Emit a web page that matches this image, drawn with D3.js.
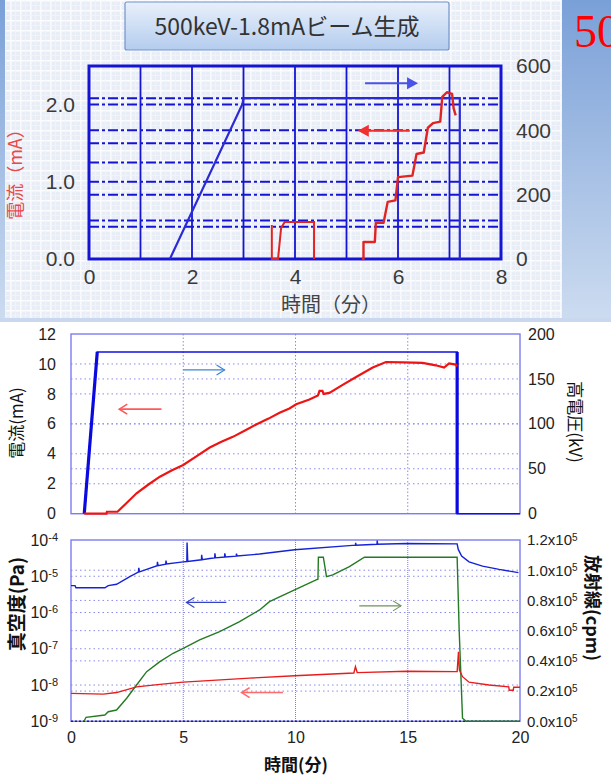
<!DOCTYPE html>
<html lang="ja">
<head>
<meta charset="utf-8">
<title>500keV-1.8mAビーム生成</title>
<script src="https://cdn.jsdelivr.net/npm/d3@7"></script>
<style>
body { margin: 0; background: #fff; }
svg text { font-family: Arial, "Liberation Sans", "Noto Sans CJK JP", sans-serif; }
svg text.jp { font-family: "Noto Sans CJK JP", sans-serif; }
</style>
</head>
<body>
<svg id="chart" width="611" height="778"></svg>
<script>
// ---- top panel (500keV-1.8mA) ----
var topTitle = "500keV-1.8mAビーム生成";
var topTicksX = [0, 2, 4, 6, 8];
var topTicksL = [0, 1, 2];
var topTicksR = [0, 200, 400, 600];
var topGridX = [1, 2, 3, 4, 5, 6, 7];
var topGridL = [0.5, 1, 1.5, 2];
var topGridR = [100, 200, 300, 400, 500];
// [min, kV]
var topVoltage = [[1.57, 0], [2.98, 482], [3.0, 500], [7.2, 500], [7.2, 0]];
// [min, mA]
var topPulse = [[3.55, 0.44], [3.55, 0], [3.67, 0], [3.73, 0.4], [3.8, 0.48], [4.37, 0.48], [4.37, 0]];
var topCurrent = [[5.3, 0], [5.33, 0], [5.33, 0.22], [5.55, 0.22], [5.57, 0.47], [5.72, 0.47], [5.8, 0.74],
  [5.95, 0.76], [6.0, 1.06], [6.28, 1.08], [6.36, 1.36], [6.5, 1.38], [6.58, 1.7], [6.68, 1.76], [6.82, 1.78],
  [6.86, 2.1], [6.95, 2.16], [7.05, 2.14], [7.08, 1.95], [7.12, 1.86]];

// ---- middle panel ----
var midTicksL = [0, 2, 4, 6, 8, 10, 12];
var midTicksR = [0, 50, 100, 150, 200];
var midGridX = [5, 10, 15];
var midGridL = [2, 4, 6, 8, 10];
var midGridR = [50, 100, 150];
var midVoltage = [[0.59, 0], [1.17, 180], [17.2, 180], [17.2, 0], [20, 0]];
var midCurrent = [[0.59, 0], [1.58, 0], [1.6, 0.13], [2.07, 0.13], [2.5, 0.75], [2.92, 1.36], [3.45, 1.95],
  [3.96, 2.47], [4.5, 2.9], [5.0, 3.25], [5.6, 3.85], [6.18, 4.42], [6.7, 4.8], [7.21, 5.13], [7.75, 5.55],
  [8.25, 5.96], [8.8, 6.35], [9.29, 6.74], [9.73, 7.03], [10.03, 7.31], [10.62, 7.62], [11.0, 7.9],
  [11.07, 8.2], [11.2, 8.2], [11.25, 8.0], [11.51, 8.07], [12.1, 8.6], [12.7, 9.13], [13.44, 9.76],
  [14.03, 10.13], [14.8, 10.1], [15.66, 10.07], [16.25, 9.91], [16.62, 9.76], [16.84, 10.03],
  [17.14, 9.96], [17.2, 9.85]];

// ---- bottom panel ----
var botTicksX = [0, 5, 10, 15, 20];
var botTicksL = [1e-9, 1e-8, 1e-7, 1e-6, 1e-5, 1e-4];
var botTicksR = [0, 0.2e5, 0.4e5, 0.6e5, 0.8e5, 1.0e5, 1.2e5];
var botGridL = [1e-8, 1e-7, 1e-6, 1e-5];
var botGridR = [0.2e5, 0.4e5, 0.6e5, 0.8e5, 1.0e5];
var vacBlue = [[0, 5.5e-6], [0.18, 5.5e-6], [0.22, 4.8e-6], [1.51, 4.8e-6], [1.66, 5.5e-6], [2.03, 6e-6],
  [2.62, 9.8e-6], [3.0, 1.3e-5], [3.02, 1.7e-5], [3.05, 1.32e-5], [3.84, 1.95e-5], [3.85, 2.5e-5],
  [3.88, 1.97e-5], [4.22, 2.15e-5], [4.23, 2.7e-5], [4.26, 2.17e-5], [5.0, 2.5e-5], [5.16, 2.55e-5],
  [5.17, 8.5e-5], [5.2, 2.57e-5], [5.81, 2.85e-5], [5.82, 3.9e-5], [5.85, 2.87e-5], [6.18, 3.1e-5],
  [6.4, 3.2e-5], [6.41, 4.3e-5], [6.44, 3.22e-5], [6.84, 3.4e-5], [6.85, 4.3e-5], [6.88, 3.42e-5],
  [7.36, 3.6e-5], [7.37, 4.2e-5], [7.4, 3.62e-5], [8.4, 4.1e-5], [9.96, 5.4e-5], [12.4, 7.0e-5],
  [12.67, 7.2e-5], [12.68, 8.3e-5], [12.7, 7.2e-5], [13.63, 7.6e-5], [13.64, 9.6e-5], [13.66, 7.6e-5],
  [14.96, 8.0e-5], [17.2, 7.8e-5], [17.25, 5.5e-5], [17.4, 3.6e-5], [17.73, 2.5e-5], [18.33, 1.9e-5],
  [19.07, 1.55e-5], [19.93, 1.26e-5]];
var vacRed = [[0, 5.9e-9], [1.44, 5.6e-9], [2.03, 6.2e-9], [2.92, 8.9e-9], [3.96, 1.04e-8], [5.0, 1.2e-8],
  [7.96, 1.55e-8], [9.96, 1.8e-8], [12.6, 2.15e-8], [12.67, 3.2e-8], [12.75, 2.2e-8], [14.96, 2.4e-8],
  [17.2, 2.35e-8], [17.26, 8.2e-8], [17.3, 2.6e-8], [17.44, 1.7e-8], [17.73, 1.2e-8], [18.62, 1.0e-8],
  [19.5, 8.9e-9], [19.52, 7.2e-9], [19.7, 7.2e-9], [19.72, 8.7e-9], [20, 8.7e-9]];
var radGreen = [[0.58, 0], [0.67, 2650], [1.51, 4170], [1.66, 6360], [2.03, 7480], [2.48, 15230],
  [2.92, 24000], [3.37, 32850], [3.96, 39500], [4.55, 45030], [5.0, 48300], [5.73, 53850], [6.62, 59340],
  [7.51, 65960], [8.4, 73700], [8.84, 79200], [9.96, 86950], [10.92, 93600], [11.0, 94000], [11.02, 108600],
  [11.24, 108600], [11.38, 95770], [11.66, 96900], [12.4, 102400], [13.07, 108600], [17.2, 108600],
  [17.29, 60470], [17.44, 2000], [17.6, 0], [20, 0]];

var svg = d3.select("#chart");
var defs = svg.append("defs");

// slide background
var bg = defs.append("linearGradient").attr("id", "slideBg")
    .attr("x1", 0).attr("y1", 0).attr("x2", 0).attr("y2", 1);
bg.append("stop").attr("offset", "0%").attr("stop-color", "#7aa0d8");
bg.append("stop").attr("offset", "100%").attr("stop-color", "#cddcf0");
svg.append("rect").attr("x", 0).attr("y", 0).attr("width", 611).attr("height", 322).attr("fill", "url(#slideBg)");

var pat = defs.append("pattern").attr("id", "paper").attr("width", 10).attr("height", 10)
    .attr("patternUnits", "userSpaceOnUse");
pat.append("rect").attr("width", 10).attr("height", 10).attr("fill", "#e9eef6");
pat.append("path").attr("d", "M0,0.8H10M0.8,0V10").attr("stroke", "#fbfcfe").attr("stroke-width", 1.4);
pat.append("path").attr("d", "M0,5.5H10M5.5,0V10").attr("stroke", "#f1f4f9").attr("stroke-width", 0.8);
svg.append("rect").attr("x", 5).attr("y", 0).attr("width", 557).attr("height", 318).attr("fill", "url(#paper)");

svg.append("text").attr("x", 574).attr("y", 47)
    .attr("style", "font-family: 'Liberation Serif', 'DejaVu Serif', serif; font-size: 46px")
    .attr("fill", "#ff0000").text("50");

// title box
var tg = defs.append("linearGradient").attr("id", "titleBg")
    .attr("x1", 0).attr("y1", 0).attr("x2", 0).attr("y2", 1);
tg.append("stop").attr("offset", "0%").attr("stop-color", "#e8f0fb");
tg.append("stop").attr("offset", "100%").attr("stop-color", "#b4ccee");
svg.append("rect").attr("x", 125).attr("y", 2).attr("width", 324).attr("height", 48).attr("rx", 2)
    .attr("fill", "url(#titleBg)").attr("stroke", "#7393c8").attr("stroke-width", 1.2);
svg.append("text").attr("class", "jp").attr("x", 287).attr("y", 35).attr("text-anchor", "middle")
    .style("font-size", "23px").attr("fill", "#333").text(topTitle);

function arrow(g, x1, y1, x2, y2, color, w, filled) {
  var dir = x2 > x1 ? 1 : -1;
  if (filled) {
    g.append("line").attr("x1", x1).attr("y1", y1).attr("x2", x2 - dir * 8).attr("y2", y2)
        .attr("stroke", color).attr("stroke-width", w);
    g.append("path").attr("d", "M" + x2 + "," + y2 + "L" + (x2 - dir * 11) + "," + (y2 - 6) + "L" + (x2 - dir * 11) + "," + (y2 + 6) + "Z")
        .attr("fill", color);
  } else {
    g.append("line").attr("x1", x1).attr("y1", y1).attr("x2", x2).attr("y2", y2)
        .attr("stroke", color).attr("stroke-width", w);
    g.append("path").attr("d", "M" + (x2 - dir * 8) + "," + (y2 - 5) + "L" + x2 + "," + y2 + "L" + (x2 - dir * 8) + "," + (y2 + 5))
        .attr("fill", "none").attr("stroke", color).attr("stroke-width", w);
  }
}

function styleAxis(g, size, color) {
  g.select(".domain").remove();
  g.selectAll(".tick line").remove();
  g.attr("font-family", null).attr("font-size", null);
  g.selectAll("text").style("font-size", size + "px").attr("fill", color);
}

// ---------------- top chart ----------------
var tx = d3.scaleLinear().domain([0, 8]).range([89, 501]);
var tyL = d3.scaleLinear().domain([0, 2.5]).range([259, 66]);
var tyR = d3.scaleLinear().domain([0, 600]).range([259, 66]);
var topBlue = "#1414d2";
var topG = svg.append("g");

topG.selectAll(".vg").data(topGridX).enter().append("line")
    .attr("x1", tx).attr("x2", tx).attr("y1", tyL(2.5)).attr("y2", tyL(0))
    .attr("stroke", topBlue).attr("stroke-width", 1.8);
topG.selectAll(".hgl").data(topGridL).enter().append("line")
    .attr("x1", tx(0)).attr("x2", tx(8)).attr("y1", tyL).attr("y2", tyL)
    .attr("stroke", topBlue).attr("stroke-width", 2).attr("stroke-dasharray", "10,3,3,3");
topG.selectAll(".hgr").data(topGridR).enter().append("line")
    .attr("x1", tx(0)).attr("x2", tx(8)).attr("y1", tyR).attr("y2", tyR)
    .attr("stroke", topBlue).attr("stroke-width", 2).attr("stroke-dasharray", "10,3,3,3");
topG.append("rect").attr("x", tx(0)).attr("y", tyL(2.5)).attr("width", tx(8) - tx(0)).attr("height", tyL(0) - tyL(2.5))
    .attr("fill", "none").attr("stroke", topBlue).attr("stroke-width", 3);

var topVLine = d3.line().x(function(d) { return tx(d[0]); }).y(function(d) { return tyR(d[1]); });
var topILine = d3.line().x(function(d) { return tx(d[0]); }).y(function(d) { return tyL(d[1]); });
topG.append("path").attr("d", topVLine(topVoltage)).attr("fill", "none").attr("stroke", "#2a2ad6").attr("stroke-width", 2.2);
topG.append("path").attr("d", topILine(topPulse)).attr("fill", "none").attr("stroke", "#e02424").attr("stroke-width", 2);
topG.append("path").attr("d", topILine(topCurrent)).attr("fill", "none").attr("stroke", "#e02424").attr("stroke-width", 2.4)
    .attr("stroke-linejoin", "round");

arrow(topG, tx(5.36), tyR(546), tx(6.39), tyR(546), "#4b52e6", 2, true);
arrow(topG, tx(6.23), tyL(1.66), tx(5.22), tyL(1.66), "#f03030", 2, true);

topG.append("g").attr("transform", "translate(0," + tyL(0) + ")")
    .call(d3.axisBottom(tx).tickValues(topTicksX).tickSize(0).tickPadding(10))
    .call(styleAxis, 21, "#3a3a3a");
topG.append("g").attr("transform", "translate(" + tx(0) + ",0)")
    .call(d3.axisLeft(tyL).tickValues(topTicksL).tickSize(0).tickPadding(14).tickFormat(d3.format(".1f")))
    .call(styleAxis, 21, "#3a3a3a");
topG.append("g").attr("transform", "translate(" + tx(8) + ",0)")
    .call(d3.axisRight(tyR).tickValues(topTicksR).tickSize(0).tickPadding(15))
    .call(styleAxis, 21, "#3a3a3a");

topG.append("text").attr("class", "jp").attr("x", 331).attr("y", 312).attr("text-anchor", "middle")
    .style("font-size", "20px").attr("fill", "#444").text("時間（分）");
topG.append("text").attr("class", "jp").attr("transform", "translate(22,170) rotate(-90)").attr("text-anchor", "middle")
    .style("font-size", "18px").attr("fill", "#e84a4a").text("電流（mA）");

// separator under the slide area
svg.append("rect").attr("x", 0).attr("y", 318).attr("width", 611).attr("height", 4).attr("fill", "#c9d8ee");

// ---------------- middle chart ----------------
var mx = d3.scaleLinear().domain([0, 20]).range([71, 520]);
var myL = d3.scaleLinear().domain([0, 12]).range([513.7, 334]);
var myR = d3.scaleLinear().domain([0, 200]).range([513.7, 334]);
var grid = "#8a8aee";
var mid = svg.append("g");

mid.selectAll(".vg").data(midGridX).enter().append("line")
    .attr("x1", mx).attr("x2", mx).attr("y1", myL(12)).attr("y2", myL(0))
    .attr("stroke", grid).attr("stroke-width", 1).attr("stroke-dasharray", "1.5,2");
mid.selectAll(".hgl").data(midGridL).enter().append("line")
    .attr("x1", mx(0)).attr("x2", mx(20)).attr("y1", myL).attr("y2", myL)
    .attr("stroke", grid).attr("stroke-width", 1).attr("stroke-dasharray", "1.5,3");
mid.selectAll(".hgr").data(midGridR).enter().append("line")
    .attr("x1", mx(0)).attr("x2", mx(20)).attr("y1", myR).attr("y2", myR)
    .attr("stroke", grid).attr("stroke-width", 1).attr("stroke-dasharray", "1.5,3");
mid.append("rect").attr("x", mx(0)).attr("y", myL(12)).attr("width", mx(20) - mx(0)).attr("height", myL(0) - myL(12))
    .attr("fill", "none").attr("stroke", "#7c7cf2").attr("stroke-width", 1.4);

var midVLine = d3.line().x(function(d) { return mx(d[0]); }).y(function(d) { return myR(d[1]); });
var midILine = d3.line().x(function(d) { return mx(d[0]); }).y(function(d) { return myL(d[1]); });
mid.append("path").attr("d", midVLine(midVoltage)).attr("fill", "none").attr("stroke", "#1010e0").attr("stroke-width", 1.6);
mid.append("path").attr("d", midVLine(midVoltage.slice(0, 2))).attr("fill", "none").attr("stroke", "#0a0ae0").attr("stroke-width", 3.2);
mid.append("path").attr("d", midVLine(midVoltage.slice(2, 4))).attr("fill", "none").attr("stroke", "#0a0ae0").attr("stroke-width", 3.2);
mid.append("path").attr("d", midILine(midCurrent)).attr("fill", "none").attr("stroke", "#ee1414").attr("stroke-width", 2.2);

arrow(mid, mx(5.0), myR(160), mx(6.84), myR(160), "#3d86d6", 1.2, false);
arrow(mid, mx(4.03), myL(6.98), mx(2.15), myL(6.98), "#ff5a5a", 1.6, false);

mid.append("g").attr("transform", "translate(" + mx(0) + ",0)")
    .call(d3.axisLeft(myL).tickValues(midTicksL).tickSize(0).tickPadding(15))
    .call(styleAxis, 16, "#222");
mid.append("g").attr("transform", "translate(" + mx(20) + ",0)")
    .call(d3.axisRight(myR).tickValues(midTicksR).tickSize(0).tickPadding(8))
    .call(styleAxis, 16, "#222");
mid.append("text").attr("class", "jp").attr("transform", "translate(23,423) rotate(-90)").attr("text-anchor", "middle")
    .style("font-size", "17px").attr("fill", "#111").text("電流(mA)");
mid.append("text").attr("class", "jp").attr("transform", "translate(569,422) rotate(90)").attr("text-anchor", "middle")
    .style("font-size", "17px").attr("fill", "#111").text("高電圧(kV)");

// ---------------- bottom chart ----------------
var bx = d3.scaleLinear().domain([0, 20]).range([71, 520]);
var byL = d3.scaleLog().domain([1e-9, 1e-4]).range([721.3, 540]);
var byR = d3.scaleLinear().domain([0, 1.2e5]).range([721.3, 540]);
var bot = svg.append("g");

bot.selectAll(".vg").data(midGridX).enter().append("line")
    .attr("x1", bx).attr("x2", bx).attr("y1", byR(1.2e5)).attr("y2", byR(0))
    .attr("stroke", "#7a7aea").attr("stroke-width", 1).attr("stroke-dasharray", "1,1");
bot.selectAll(".hgl").data(botGridL).enter().append("line")
    .attr("x1", bx(0)).attr("x2", bx(20)).attr("y1", byL).attr("y2", byL)
    .attr("stroke", grid).attr("stroke-width", 1).attr("stroke-dasharray", "1.5,3");
bot.selectAll(".hgr").data(botGridR).enter().append("line")
    .attr("x1", bx(0)).attr("x2", bx(20)).attr("y1", byR).attr("y2", byR)
    .attr("stroke", grid).attr("stroke-width", 1).attr("stroke-dasharray", "1.5,3");
bot.append("rect").attr("x", bx(0)).attr("y", byR(1.2e5)).attr("width", bx(20) - bx(0)).attr("height", byR(0) - byR(1.2e5))
    .attr("fill", "none").attr("stroke", "#7c7cf2").attr("stroke-width", 1.4);
bot.append("line").attr("x1", bx(0)).attr("x2", bx(20)).attr("y1", byR(0)).attr("y2", byR(0))
    .attr("stroke", "#1a1a9a").attr("stroke-width", 1.4).attr("stroke-dasharray", "2,2");

var vacLine = d3.line().x(function(d) { return bx(d[0]); }).y(function(d) { return byL(d[1]); });
var radLine = d3.line().x(function(d) { return bx(d[0]); }).y(function(d) { return byR(d[1]); });
bot.append("path").attr("d", radLine(radGreen)).attr("fill", "none").attr("stroke", "#237a23").attr("stroke-width", 1.4);
bot.append("path").attr("d", vacLine(vacRed)).attr("fill", "none").attr("stroke", "#e81c1c").attr("stroke-width", 1.4);
bot.append("path").attr("d", vacLine(vacBlue)).attr("fill", "none").attr("stroke", "#1622d6").attr("stroke-width", 1.4);

arrow(bot, bx(6.92), byL(1.9e-6), bx(5.14), byL(1.9e-6), "#3344c4", 1.1, false);
arrow(bot, bx(12.84), byR(76400), bx(14.7), byR(76400), "#6f8f5f", 1.1, false);
arrow(bot, bx(9.44), byL(6.2e-9), bx(7.6), byL(6.2e-9), "#ff6a6a", 1.6, false);

bot.append("g").attr("transform", "translate(0," + byR(0) + ")")
    .call(d3.axisBottom(bx).tickValues(botTicksX).tickSize(0).tickPadding(10))
    .call(styleAxis, 16, "#222");
var la = bot.append("g").attr("transform", "translate(" + bx(0) + ",0)")
    .call(d3.axisLeft(byL).tickValues(botTicksL).tickSize(0).tickPadding(13))
    .call(styleAxis, 16, "#222");
la.selectAll(".tick text").each(function(d) {
  var t = d3.select(this).text(null);
  t.append("tspan").text("10");
  t.append("tspan").attr("dy", "-0.45em").style("font-size", "11px").text(Math.round(Math.log10(d)));
});
var ra = bot.append("g").attr("transform", "translate(" + bx(20) + ",0)")
    .call(d3.axisRight(byR).tickValues(botTicksR).tickSize(0).tickPadding(7))
    .call(styleAxis, 15, "#222");
ra.selectAll(".tick text").each(function(d) {
  var t = d3.select(this).text(null);
  t.append("tspan").text(d3.format(".1f")(d / 1e5) + "x10");
  t.append("tspan").attr("dy", "-0.45em").style("font-size", "10px").text("5");
});

bot.append("text").attr("class", "jp").attr("x", 296).attr("y", 771).attr("text-anchor", "middle")
    .style("font-size", "17px").style("font-weight", "bold").attr("fill", "#111").text("時間(分)");
bot.append("text").attr("class", "jp").attr("transform", "translate(24,604) rotate(-90)").attr("text-anchor", "middle")
    .style("font-size", "19px").style("font-weight", "bold").attr("fill", "#111").text("真空度(Pa)");
bot.append("text").attr("class", "jp").attr("transform", "translate(586,608) rotate(90)").attr("text-anchor", "middle")
    .style("font-size", "18px").style("font-weight", "bold").attr("fill", "#111").text("放射線(cpm)");
</script>
</body>
</html>
